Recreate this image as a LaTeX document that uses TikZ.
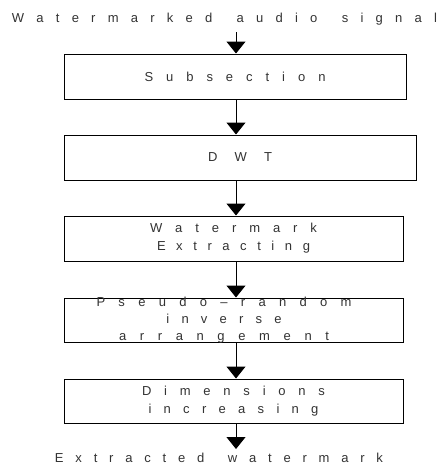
\documentclass[tikz,border=0pt]{standalone}
\usepackage{fontspec}
\setmainfont{Liberation Sans}
\usetikzlibrary{arrows.meta}
\definecolor{txtc}{gray}{0.2}
\ExplSyntaxOn
\seq_new:N \l_rs_words_seq
\bool_new:N \l_rs_first_bool
\NewDocumentCommand \spread { m m }
  {
    \seq_set_split:Nnn \l_rs_words_seq { ~ } { #2 }
    \makebox [ #1 ] [ s ]
      {
        \hskip 0pt plus -1fil \relax
        \bool_set_true:N \l_rs_first_bool
        \seq_map_inline:Nn \l_rs_words_seq
          {
            \bool_if:NF \l_rs_first_bool { \hskip 0pt plus 1fil \relax }
            \bool_set_false:N \l_rs_first_bool
            \tl_map_inline:nn { ##1 } { \hskip 0pt plus 1fil \relax ####1 }
          }
      }
  }
\ExplSyntaxOff
\begin{document}
\begin{tikzpicture}[x=1pt,y=-1pt,
  box/.style={draw=black, line width=1pt, minimum height=45pt, inner sep=0pt,
    text=txtc, font=\fontsize{13}{18}\selectfont, align=center},
  lbl/.style={inner sep=0pt, text=txtc, font=\fontsize{13}{17}\selectfont, align=center},
  flow/.style={draw=black, line width=1pt, -{Triangle[width=19pt,length=12pt]}}]
\useasboundingbox (0,0) rectangle (444,467);
\fill[white] (0,0) rectangle (444,467);
\coordinate (ax) at (236,0);
\node[lbl, anchor=base] (src) at (224.5,22) {\spread{425pt}{Watermarked audio signal}};
\coordinate (c0) at (236,32);
\node[box, minimum width=342pt] (b1) at (235,76.5) {\spread{181pt}{Subsection}};
\node[box, minimum width=352pt] (b2) at (240,157.5) {\spread{64pt}{DWT}};
\node[box, minimum width=339pt] (b3) at (233.5,238.5) {\spread{167pt}{Watermark}\\\spread{153pt}{Extracting}};
\node[box, minimum width=339pt, minimum height=44pt] (b4) at (233.5,320) {};
\node[lbl] (t4) at (224,320.5) {\spread{255pt}{Pseudo–random}\\\spread{115pt}{inverse}\\\spread{210pt}{arrangement}};
\node[box, minimum width=339pt, minimum height=44pt] (b5) at (233.5,401) {\spread{183pt}{Dimensions}\\\spread{170pt}{increasing}};
\coordinate (c6) at (236,449);
\node[lbl, anchor=base] (dst) at (219,462) {\spread{328pt}{Extracted watermark}};
\draw[flow] (c0) -- (b1.north -| ax);
\draw[flow] (b1.south -| ax) -- (b2.north -| ax);
\draw[flow] (b2.south -| ax) -- (b3.north -| ax);
\draw[flow] (b3.south -| ax) -- (b4.north -| ax);
\draw[flow] (b4.south -| ax) -- (b5.north -| ax);
\draw[flow] (b5.south -| ax) -- (c6);
\end{tikzpicture}
\end{document}
